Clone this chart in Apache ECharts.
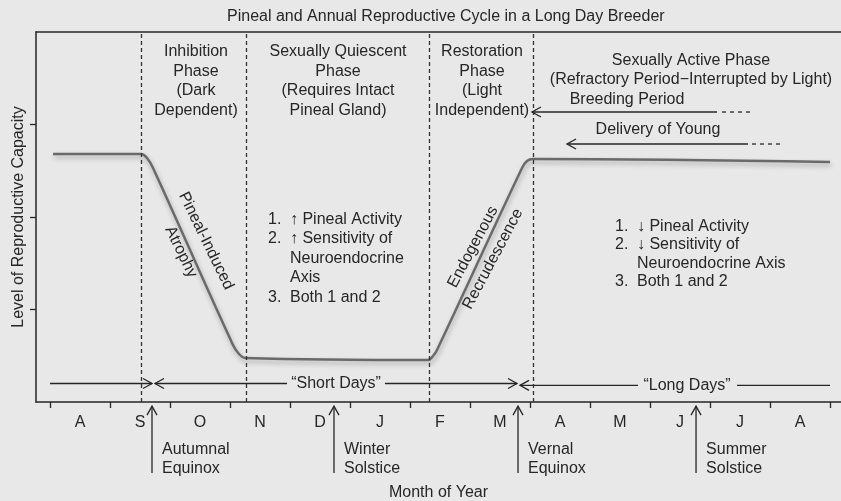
<!DOCTYPE html>
<html><head><meta charset="utf-8">
<script src="https://cdn.jsdelivr.net/npm/echarts@6/dist/echarts.min.js"></script>
<style>html,body{margin:0;padding:0;background:#e8e8e8}#c{width:841px;height:501px}</style>
</head><body><div id="c"></div>
<script>
// ---- axis categories / ticks ----
const months = ['A','S','O','N','D','J','F','M','A','M','J','J','A'];
const monthTicks = [0,1,2,3,4,5,6,7,8,9,10,11,12,13];
const monthCenters = [0.5,1.5,2.5,3.5,4.5,5.5,6.5,7.5,8.5,9.5,10.5,11.5,12.5];
const levelTicks = [1,2,3];

// ---- reproductive capacity curve (month position, level) ----
const capacityX = [0.05, 1.517, 1.617, 1.717, 3.05, 3.15, 3.25, 6.30, 6.383, 6.45, 7.867, 7.95, 8.05, 13.0];
const capacityY = [2.68, 2.68, 2.638, 2.53, 0.616, 0.519, 0.476, 0.454, 0.497, 0.562, 2.53, 2.605, 2.627, 2.595];

// ---- phase boundaries (dashed verticals) ----
const phaseBoundaries = [1.517, 3.267, 6.317, 8.05];

// ---- phase labels ----
const phaseLabels = ['Inhibition\nPhase\n(Dark\nDependent)', 'Sexually Quiescent\nPhase\n(Requires Intact\nPineal Gland)', 'Restoration\nPhase\n(Light\nIndependent)', 'Sexually Active Phase\n(Refractory Period\u2212Interrupted by Light)'];
const phaseLabelX = [2.433, 4.8, 7.2, 10.683];
const phaseLabelY = [3.47, 3.47, 3.47, 3.589];

// ---- slope labels ----
const slopeLabels = ['Pineal-Induced', 'Atrophy', 'Endogenous', 'Recrudescence'];
const slopeLabelX = [2.6, 2.183, 7.05, 7.383];
const slopeLabelY = [1.741, 1.622, 1.676, 1.546];
const slopeLabelAngle = [-64, -64, 62, 62];

// ---- mechanism lists ----
const listNumbers = ['1.', '2.', '', '', '3.', '1.', '2.', '', '3.'];
const listTexts = ['\u2191 Pineal Activity', '\u2191 Sensitivity of', 'Neuroendocrine', 'Axis', 'Both 1 and 2',
                   '\u2193 Pineal Activity', '\u2193 Sensitivity of', 'Neuroendocrine Axis', 'Both 1 and 2'];
const listNumX = [3.633, 3.633, 3.633, 3.633, 3.633, 9.417, 9.417, 9.417, 9.417];
const listTextX = [4.0, 4.0, 4.0, 4.0, 4.0, 9.783, 9.783, 9.783, 9.783];
const listY = [1.968, 1.762, 1.546, 1.341, 1.124, 1.892, 1.697, 1.492, 1.297];

// ---- period arrows ----
const periodLabels = ['Breeding Period', 'Delivery of Young', '\u201cShort Days\u201d', '\u201cLong Days\u201d'];
const periodLabelX = [9.617, 10.133, 4.767, 10.617];
const periodLabelY = [3.265, 2.941, 0.20, 0.18];
// [from, to, level, head] head: 0 none, 1 at start (pointing left), 2 at end (pointing right), 3 dashed
const periodArrows = [
  [8.033, 11.117, 3.135, 1], [11.2, 11.667, 3.135, 3],
  [8.617, 11.633, 2.789, 1], [11.7, 12.2, 2.789, 3],
  [0, 1.7, 0.20, 2], [1.75, 3.95, 0.20, 1], [5.583, 7.783, 0.20, 2],
  [7.833, 9.8, 0.18, 1], [11.45, 13.0, 0.18, 0]
];

// ---- seasonal events ----
const eventLabels = ['Autumnal\nEquinox', 'Winter\nSolstice', 'Vernal\nEquinox', 'Summer\nSolstice'];
const eventX = [1.7, 4.733, 7.8, 10.767];
const eventArrowBottom = -0.768;
const eventArrowTop = -0.045;
const eventLabelY = -0.62;

const INK = '#262626';
const FONT = '"Liberation Sans", Arial, sans-serif';

const chart = echarts.init(document.getElementById('c'), null, {renderer: 'canvas'});

function chevron(x, y, dir) {
  if (dir === 'l') return [[x + 9, y - 5], [x, y], [x + 9, y + 5]];
  if (dir === 'r') return [[x - 9, y - 5], [x, y], [x - 9, y + 5]];
  return [[x - 5, y + 9], [x, y], [x + 5, y + 9]];
}

function textSeries(name, xs, ys, texts, extra) {
  return {
    type: 'custom', name, coordinateSystem: 'cartesian2d', clip: false, silent: true,
    data: xs.map((x, i) => [x, ys[i], i]),
    renderItem: (params, api) => {
      const i = api.value(2);
      const p = api.coord([api.value(0), api.value(1)]);
      const e = extra(i);
      return {
        type: 'text', x: p[0], y: p[1], rotation: (e.rot || 0) * Math.PI / 180,
        style: {text: texts[i], fill: INK, font: (e.size || 16) + 'px ' + FONT,
                align: e.align || 'center', verticalAlign: 'middle', lineHeight: e.lh || 19.5}
      };
    }
  };
}

const option = {
  backgroundColor: '#e8e8e8',
  animation: false,
  title: {
    text: 'Pineal and Annual Reproductive Cycle in a Long Day Breeder',
    left: 227, top: 9, padding: 0,
    textStyle: {fontFamily: FONT, fontSize: 16, fontWeight: 'normal', color: INK}
  },
  grid: {left: 36, right: 0, top: 32, bottom: 99, outerBoundsMode: 'none', containLabel: false},
  xAxis: [{
    type: 'value', min: -0.2333, max: 13.183, position: 'bottom',
    axisLine: {show: true, onZero: false, lineStyle: {color: INK, width: 1.5}},
    axisTick: {show: true, customValues: monthTicks, length: 6, lineStyle: {color: INK, width: 1.3}},
    axisLabel: {show: true, customValues: monthCenters, formatter: v => months[Math.floor(v)],
                margin: 13, fontSize: 16, fontFamily: FONT, color: INK},
    splitLine: {show: false},
    name: 'Month of Year', nameLocation: 'middle', nameGap: 83,
    nameTextStyle: {fontFamily: FONT, fontSize: 16, color: INK}
  }, {
    type: 'value', min: -0.2333, max: 13.183, position: 'top',
    axisLine: {show: true, onZero: false, lineStyle: {color: INK, width: 1.5}},
    axisTick: {show: false}, axisLabel: {show: false}, splitLine: {show: false}
  }],
  yAxis: {
    type: 'value', min: 0, max: 4, interval: 1,
    axisLine: {show: true, onZero: false, lineStyle: {color: INK, width: 1.5}},
    axisTick: {show: true, customValues: levelTicks, length: 6, lineStyle: {color: INK, width: 1.3}},
    axisLabel: {show: false}, splitLine: {show: false},
    name: 'Level of Reproductive Capacity', nameLocation: 'middle', nameGap: 9,
    nameTextStyle: {fontFamily: FONT, fontSize: 16, color: INK}
  },
  series: [
    {
      type: 'line', name: 'capacity', xAxisIndex: 0, yAxisIndex: 0,
      data: capacityX.map((x, i) => [x, capacityY[i]]),
      smooth: 0.4, showSymbol: false, silent: true,
      lineStyle: {color: '#6a6a6a', width: 2.5, shadowColor: 'rgba(0,0,0,0.28)', shadowBlur: 5, shadowOffsetY: 3, shadowOffsetX: 1},
      markLine: {
        silent: true, symbol: 'none', label: {show: false},
        lineStyle: {type: [4, 3], color: '#333', width: 1.3},
        data: phaseBoundaries.map(x => ({xAxis: x}))
      }
    },
    textSeries('phases', phaseLabelX, phaseLabelY, phaseLabels, () => ({})),
    textSeries('slopes', slopeLabelX, slopeLabelY, slopeLabels, i => ({rot: slopeLabelAngle[i]})),
    textSeries('listNums', listNumX, listY, listNumbers, () => ({align: 'left'})),
    textSeries('listTexts', listTextX, listY, listTexts, () => ({align: 'left'})),
    textSeries('periods', periodLabelX, periodLabelY, periodLabels, () => ({})),
    textSeries('events', eventX.map(x => x + 0.167), eventX.map(() => eventLabelY), eventLabels, () => ({align: 'left', lh: 19})),
    {
      type: 'custom', name: 'periodArrows', coordinateSystem: 'cartesian2d', clip: false, silent: true,
      data: periodArrows,
      renderItem: (params, api) => {
        const a = api.coord([api.value(0), api.value(2)]);
        const b = api.coord([api.value(1), api.value(2)]);
        const head = api.value(3);
        const ls = {stroke: INK, lineWidth: 1.3, fill: null};
        const children = [{type: 'line', shape: {x1: a[0], y1: a[1], x2: b[0], y2: b[1]},
          style: head === 3 ? Object.assign({lineDash: [4, 4]}, ls) : ls}];
        if (head === 1) children.push({type: 'polyline', shape: {points: chevron(a[0], a[1], 'l')}, style: ls});
        if (head === 2) children.push({type: 'polyline', shape: {points: chevron(b[0], b[1], 'r')}, style: ls});
        return {type: 'group', children};
      }
    },
    {
      type: 'custom', name: 'eventArrows', coordinateSystem: 'cartesian2d', clip: false, silent: true,
      data: eventX.map(x => [x, eventArrowBottom, eventArrowTop]),
      renderItem: (params, api) => {
        const a = api.coord([api.value(0), api.value(1)]);
        const b = api.coord([api.value(0), api.value(2)]);
        const ls = {stroke: INK, lineWidth: 1.3, fill: null};
        return {type: 'group', children: [
          {type: 'line', shape: {x1: a[0], y1: a[1], x2: b[0], y2: b[1]}, style: ls},
          {type: 'polyline', shape: {points: chevron(b[0], b[1], 'u')}, style: ls}
        ]};
      }
    }
  ]
};
chart.setOption(option);
</script>
</body></html>
